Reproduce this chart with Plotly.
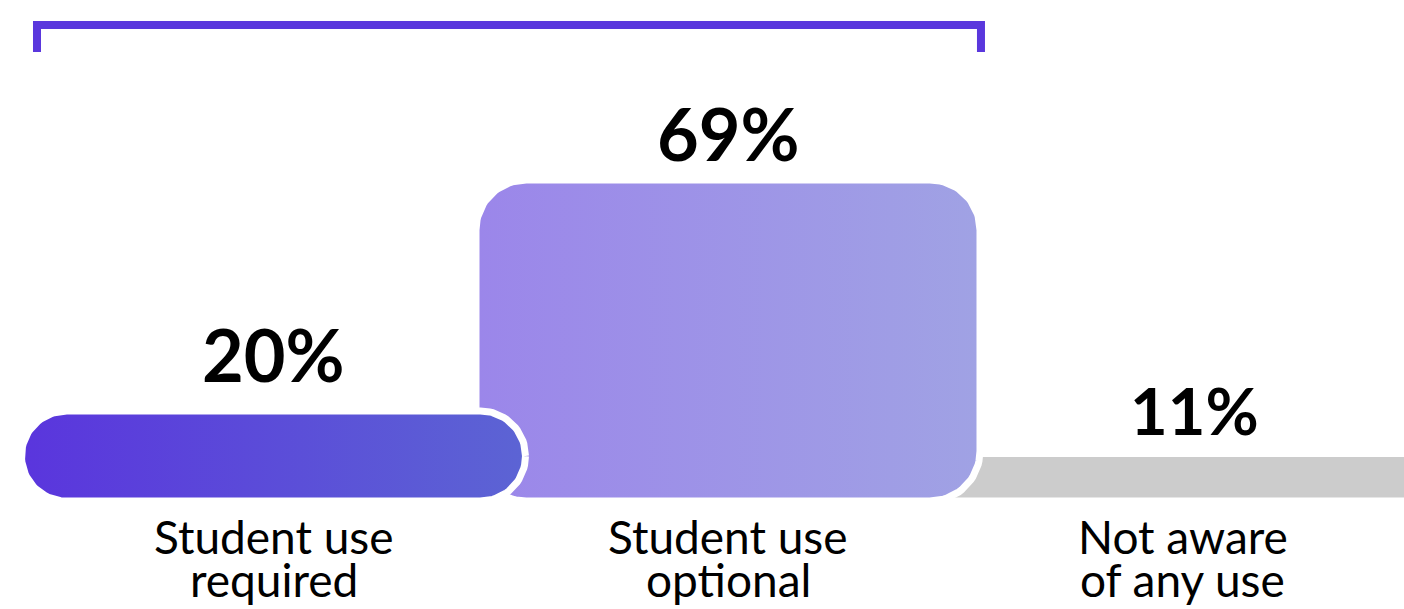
import numpy as np
import plotly.graph_objects as go

# --- data -------------------------------------------------------------
categories = ["Student use required", "Student use optional", "Not aware of any use"]
category_lines = [["Student use", "required"], ["Student use", "optional"], ["Not aware", "of any use"]]
shares = [20, 69, 11]
share_labels = ["20%", "69%", "11%"]

# --- styling ----------------------------------------------------------
fill_left = ["#5a35dd", "#9b86ea", "#cccccc"]
fill_right = ["#5c64d4", "#a0a2e4", "#cccccc"]
label_size = [72, 72, 65]
label_lift = [12, 2, 2]
label_nudge = [0, 0, 12]
BRACKET_COLOR = "#5a37dd"

W, H = 1404, 609
PX_PER_CAT = 454.5          # horizontal pixels per category step
PX_PER_PCT = 4.714          # vertical pixels per percentage point
ZERO_PX = 505.3             # pixel row of 0 %
FIRST_CENTER_PX = 273.5
X_RANGE = [-FIRST_CENTER_PX / PX_PER_CAT, (W - FIRST_CENTER_PX) / PX_PER_CAT]
Y_RANGE = [(ZERO_PX - H) / PX_PER_PCT, ZERO_PX / PX_PER_PCT]
BAR_BASE = 0.9
BAR_WIDTH = 504 / PX_PER_CAT
CORNER_PX = 50
OUTLINE = 7


def rounded_bar(xc, y0, y1, width):
    """Closed outline of a rounded rectangle in data units."""
    x0, x1 = xc - width / 2, xc + width / 2
    h_px = (y1 - y0) * PX_PER_PCT
    w_px = width * PX_PER_CAT
    r = min(CORNER_PX, h_px / 2, w_px / 2)
    rx, ry = r / PX_PER_CAT, r / PX_PER_PCT
    corners = [
        (x1 - rx, y1 - ry, 0, 90),
        (x0 + rx, y1 - ry, 90, 180),
        (x0 + rx, y0 + ry, 180, 270),
        (x1 - rx, y0 + ry, 270, 360),
    ]
    xs, ys = [], []
    for cx, cy, a0, a1 in corners:
        t = np.radians(np.linspace(a0, a1, 24))
        xs.extend(cx + rx * np.cos(t))
        ys.extend(cy + ry * np.sin(t))
    xs.append(xs[0])
    ys.append(ys[0])
    return xs, ys


fig = go.Figure()

# later categories sit underneath earlier ones
for i in reversed(range(len(shares))):
    xs, ys = rounded_bar(i, BAR_BASE, shares[i], BAR_WIDTH)
    fig.add_trace(go.Scatter(
        x=xs, y=ys, mode="lines", fill="toself",
        fillgradient=dict(type="horizontal",
                          colorscale=[[0, fill_left[i]], [1, fill_right[i]]]),
        line=dict(color="white", width=OUTLINE),
        name=categories[i], hoverinfo="skip", showlegend=False,
    ))

annotations = []
for i, (val, txt) in enumerate(zip(shares, share_labels)):
    annotations.append(dict(
        x=i, y=val, xref="x", yref="y", text=txt, showarrow=False,
        xanchor="center", yanchor="bottom",
        yshift=label_lift[i], xshift=label_nudge[i],
        font=dict(family="Lato", size=label_size[i], color="#000000", weight=700),
    ))
    for k, line in enumerate(category_lines[i]):
        annotations.append(dict(
            x=i, y=BAR_BASE, xref="x", yref="y", text=line, showarrow=False,
            xanchor="center", yanchor="top", yshift=-6 - 43 * k,
            font=dict(family="Lato", size=46, color="#000000"),
        ))

# bracket spanning the two "aware" categories
bracket_path = "M 0.02635 0.9146 L 0.02635 0.9589 L 0.6987 0.9589 L 0.6987 0.9146"
shapes = [dict(type="path", xref="paper", yref="paper", path=bracket_path,
               line=dict(color=BRACKET_COLOR, width=8))]

fig.update_layout(
    width=W, height=H,
    margin=dict(l=0, r=0, t=0, b=0),
    paper_bgcolor="white", plot_bgcolor="white",
    xaxis=dict(range=X_RANGE, visible=False, fixedrange=True),
    yaxis=dict(range=Y_RANGE, visible=False, fixedrange=True),
    annotations=annotations, shapes=shapes,
    showlegend=False,
)

fig.write_html("out.html", config={"displayModeBar": False})
